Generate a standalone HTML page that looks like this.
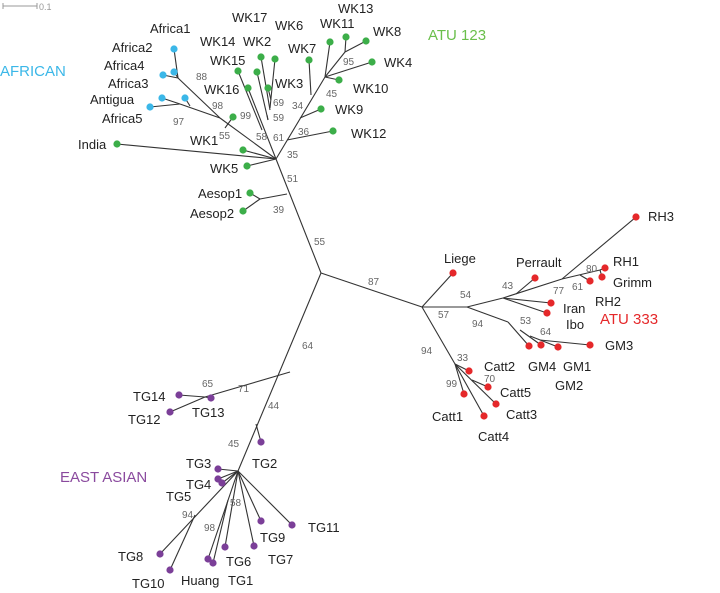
<!DOCTYPE html>
<html><head><meta charset="utf-8"><style>
body{margin:0;background:#fff}
svg{display:block;font-family:"Liberation Sans",sans-serif}
.l{font-size:13px;fill:#222}
.b{font-size:10px;fill:#666}
</style></head><body>
<svg width="720" height="593">
<g id="edges" stroke="#333" stroke-width="1.1" fill="none"></g>
<g id="dots"></g>
<g id="labels"></g>
<g id="boots"></g>
<g>
<line x1="3" y1="6" x2="37" y2="6" stroke="#999"/><line x1="3" y1="3" x2="3" y2="9" stroke="#999"/><line x1="37" y1="3" x2="37" y2="9" stroke="#999"/>
<text x="39" y="10" font-size="9" fill="#999">0.1</text></g>
<text x="0" y="76" font-size="15" fill="#3bb7e8">AFRICAN</text>
<text x="428" y="40" font-size="15" fill="#6abf4b">ATU 123</text>
<text x="600" y="324" font-size="15" fill="#e5282a">ATU 333</text>
<text x="60" y="482" font-size="15" fill="#8a4a9e">EAST ASIAN</text>
</svg>
<script>
const edges=[
[321,273,276,159],[276,159,220,118],[220,118,180,104],[180,104,150,107],[180,104,162,98],[190,106,185,98],
[220,118,178,78],[178,78,174,49],[178,78,163,75],[178,78,174,72],[225,128,233,117],
[276,159,117,144],[276,159,243,150],[276,159,247,166],
[287,194,260,199],[260,199,250,193],[260,199,243,211],
[276,159,248,88],[262,130,238,71],[268,120,257,72],[268,120,267,115],[270,110,261,57],[270,108,275,59],[271,100,268,88],
[276,159,325,77],[287,140,333,131],[300,118,321,109],[311,95,309,60],[325,77,330,42],[325,77,345,52],[345,52,346,37],[345,52,366,41],[325,77,372,62],[325,77,339,80],
[321,273,422,307],[422,307,453,273],[422,307,467,307],[467,307,503,298],[503,298,562,279],[562,279,636,217],[562,279,600,270],[600,270,605,268],[600,270,602,277],[580,275,590,281],
[516,294,535,278],[503,298,551,303],[503,298,547,313],
[467,307,508,322],[508,322,529,346],[520,330,541,345],[530,336,558,347],[540,340,590,345],
[422,307,455,364],[455,364,469,371],[455,364,496,404],[472,380,488,387],[455,364,464,394],[455,364,484,416],
[321,273,238,471],[290,372,205,397],[205,397,170,412],[205,397,179,395],[205,397,211,398],
[256,424,261,442],[238,471,218,469],[238,471,218,479],[238,471,222,483],
[238,471,292,525],[238,471,261,521],[238,471,254,546],[238,471,225,547],[238,471,208,559],[228,500,213,563],
[238,471,160,554],[195,515,170,570]];
const leaves=[
["Africa1",174,49,150,33,"#3bb7e8"],["Africa2",163,75,112,52,"#3bb7e8"],["Africa4",174,72,104,70,"#3bb7e8"],["Africa3",162,98,108,88,"#3bb7e8"],["Antigua",185,98,90,104,"#3bb7e8"],["Africa5",150,107,102,123,"#3bb7e8"],
["India",117,144,78,149,"#3cae49"],["WK1",243,150,190,145,"#3cae49"],["WK5",247,166,210,173,"#3cae49"],["",233,117,0,0,"#3cae49"],
["Aesop1",250,193,198,198,"#3cae49"],["Aesop2",243,211,190,218,"#3cae49"],
["WK16",248,88,204,94,"#3cae49"],["WK15",238,71,210,65,"#3cae49"],["WK14",257,72,200,46,"#3cae49"],["WK2",261,57,243,46,"#3cae49"],["WK17",275,59,232,22,"#3cae49"],["WK3",268,88,275,88,"#3cae49"],["WK6",0,0,275,30,"#3cae49"],
["WK7",309,60,288,53,"#3cae49"],["WK11",330,42,320,28,"#3cae49"],["WK13",346,37,338,13,"#3cae49"],["WK8",366,41,373,36,"#3cae49"],["WK4",372,62,384,67,"#3cae49"],["WK10",339,80,353,93,"#3cae49"],["WK9",321,109,335,114,"#3cae49"],["WK12",333,131,351,138,"#3cae49"],
["Liege",453,273,444,263,"#e5282a"],["Perrault",535,278,516,267,"#e5282a"],["RH3",636,217,648,221,"#e5282a"],["RH1",605,268,613,266,"#e5282a"],["Grimm",602,277,613,287,"#e5282a"],["RH2",590,281,595,306,"#e5282a"],
["Iran",551,303,563,313,"#e5282a"],["Ibo",547,313,566,329,"#e5282a"],
["GM4",529,346,528,371,"#e5282a"],["GM1",541,345,563,371,"#e5282a"],["GM2",558,347,555,390,"#e5282a"],["GM3",590,345,605,350,"#e5282a"],
["Catt2",469,371,484,371,"#e5282a"],["Catt5",488,387,500,397,"#e5282a"],["Catt3",496,404,506,419,"#e5282a"],["Catt1",464,394,432,421,"#e5282a"],["Catt4",484,416,478,441,"#e5282a"],
["TG14",179,395,133,401,"#7b3f98"],["TG13",211,398,192,417,"#7b3f98"],["TG12",170,412,128,424,"#7b3f98"],["TG2",261,442,252,468,"#7b3f98"],
["TG3",218,469,186,468,"#7b3f98"],["TG4",218,479,186,489,"#7b3f98"],["TG5",222,483,166,501,"#7b3f98"],
["TG11",292,525,308,532,"#7b3f98"],["TG9",261,521,260,542,"#7b3f98"],["TG7",254,546,268,564,"#7b3f98"],["TG6",225,547,226,566,"#7b3f98"],["Huang",208,559,181,585,"#7b3f98"],["TG1",213,563,228,585,"#7b3f98"],["TG8",160,554,118,561,"#7b3f98"],["TG10",170,570,132,588,"#7b3f98"]];
const boots=[["88",196,80],["98",212,109],["97",173,125],["99",240,119],["55",219,139],["58",256,140],["61",273,141],["69",273,106],["59",273,121],["34",292,109],["36",298,135],["35",287,158],["95",343,65],["45",326,97],["51",287,182],["39",273,213],["55",314,245],["87",368,285],
["57",438,318],["54",460,298],["43",502,289],["77",553,294],["61",572,290],["80",586,272],["94",472,327],["53",520,324],["64",540,335],["94",421,354],["33",457,361],["70",484,382],["99",446,387],
["64",302,349],["71",238,392],["65",202,387],["44",268,409],["45",228,447],["58",230,506],["98",204,531],["94",182,518]];
const NS="http://www.w3.org/2000/svg";
const E=document.getElementById('edges'),D=document.getElementById('dots'),L=document.getElementById('labels'),B=document.getElementById('boots');
for(const e of edges){const l=document.createElementNS(NS,'line');
l.setAttribute('x1',e[0]);l.setAttribute('y1',e[1]);l.setAttribute('x2',e[2]);l.setAttribute('y2',e[3]);


E.appendChild(l);}
for(const f of leaves){if(f[1]){const c=document.createElementNS(NS,'circle');
c.setAttribute('cx',f[1]);c.setAttribute('cy',f[2]);c.setAttribute('r',3.6);c.setAttribute('fill',f[5]);


D.appendChild(c);}
if(f[0]){const t=document.createElementNS(NS,'text');t.setAttribute('x',f[3]);t.setAttribute('y',f[4]);t.setAttribute('class','l');t.textContent=f[0];


L.appendChild(t);}}
for(const b of boots){const t=document.createElementNS(NS,'text');t.setAttribute('x',b[1]);t.setAttribute('y',b[2]);t.setAttribute('class','b');t.textContent=b[0];


B.appendChild(t);}
</script>
</body></html>
